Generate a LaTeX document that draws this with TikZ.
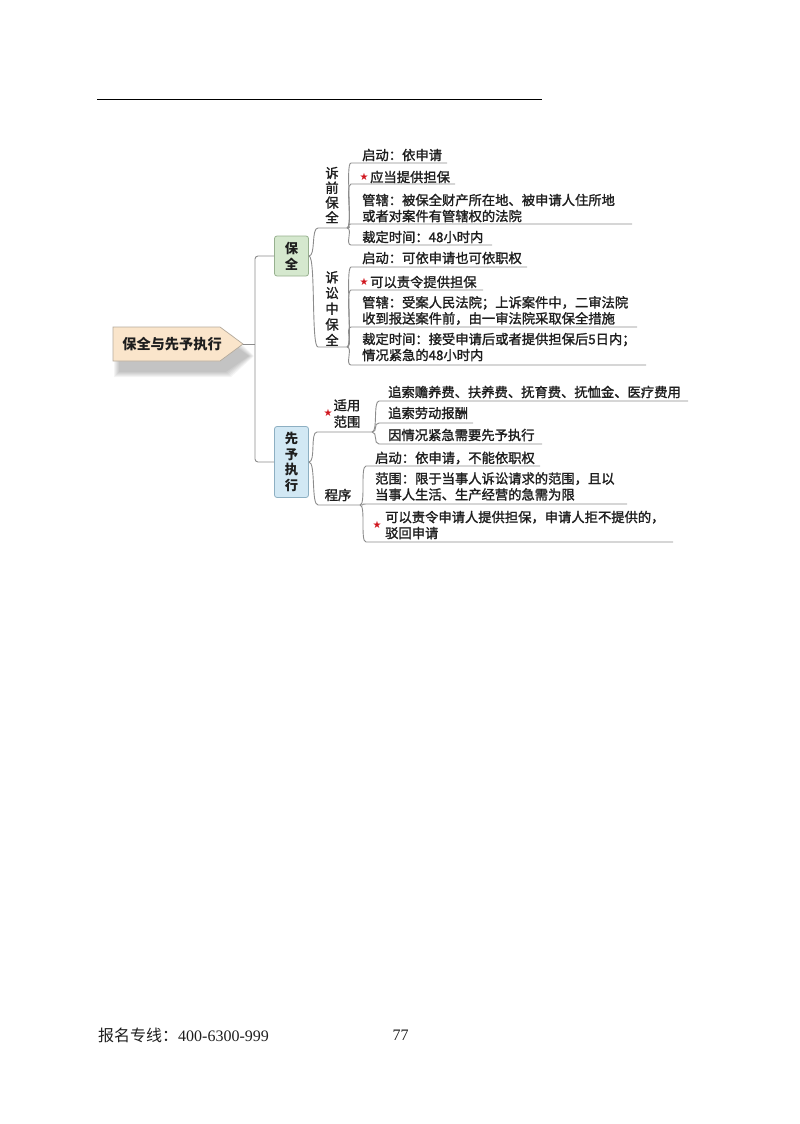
\documentclass[tikz,border=0pt]{standalone}
\usepackage{fontspec}
\setmainfont{Noto Sans CJK SC}
\newfontfamily\cjkfont{Noto Sans CJK SC}
\newfontfamily\leaffont{Noto Sans CJK SC}[FakeBold=1.6]
\newfontfamily\timesfont{Liberation Serif}
\newfontfamily\symfont{DejaVu Sans}
\usetikzlibrary{calc}
\definecolor{linegray}{HTML}{8C8C8C}
\definecolor{textc}{HTML}{1E1E1E}
\definecolor{peach}{HTML}{FAE5CB}
\definecolor{peachline}{HTML}{B4AA9C}
\definecolor{greenfill}{HTML}{D5E8CE}
\definecolor{greenline}{HTML}{97B08F}
\definecolor{bluefill}{HTML}{D2E8F4}
\definecolor{blueline}{HTML}{8DAFC2}
\definecolor{starred}{HTML}{D0161E}
\newcommand\leafitem[8]{%
  \coordinate (#1s) at (#3,#4);
  \coordinate (#1e) at (#5,#4);
  \node[leaf] (#1) at (#6,#7) {#8};
  \draw[conn] (#2) to[brk] (#1s) -- (#1e);
}
\begin{document}
\begin{tikzpicture}[x=1pt,y=-1pt,
  conn/.style={draw=linegray, line width=0.9pt},
  brk/.style={out=0,in=180,out distance=6pt,in distance=6pt},
  leaf/.style={anchor=west, inner sep=0pt, align=left, text=textc,
    font=\leaffont\fontsize{13.3}{16}\selectfont},
  vlabel/.style={inner sep=0pt, align=center, text=textc},
  starn/.style={inner sep=0pt, text=starred, font=\symfont\fontsize{10}{10}\selectfont},
  topicbox/.style={draw, line width=0.8pt, rounded corners=2.5pt, minimum width=34pt,
    inner sep=0pt, align=center, text=textc,
    font=\bfseries\fontsize{13.3}{15.7}\selectfont}]
\useasboundingbox (0,0) rectangle (800,1124);

% top rule
\coordinate (ruleL) at (97,99);
\coordinate (ruleR) at (542,99);
\draw[line width=0.8pt] (ruleL) -- (ruleR);

% root with soft shadow
\foreach \g in {5,4,3,2,1,0}{
  \fill[black, opacity=0.045] (119-\g,339-\g) -- (226+\g,339-\g) -- (249+\g,356) -- (226+\g,372+\g) -- (119-\g,372+\g) -- cycle;
}
\filldraw[fill=peach, draw=peachline, line width=0.7pt]
  (113,327) -- (220,327) -- (243,344) -- (220,361) -- (113,361) -- cycle;
\node[inner sep=0pt, text=textc, font=\bfseries\fontsize{14.2}{16}\selectfont] (root) at (172,344) {保全与先予执行};
\coordinate (roottip) at (243,344);
\coordinate (trunk) at (255,344);

% level-1 boxes
\node[topicbox, fill=greenfill, draw=greenline, minimum height=40pt] (baoquan) at (291.5,256) {保\\全};
\node[topicbox, fill=bluefill, draw=blueline, minimum height=71pt] (xianyu) at (291.5,462) {先\\予\\执\\行};

\draw[conn] (roottip) -- (trunk);
\draw[conn, rounded corners=3pt] (baoquan.west) -| (trunk) |- (xianyu.west);

% 保全 branches
\node[vlabel, font=\leaffont\fontsize{13.3}{14.8}\selectfont] (suqian) at (332,195) {诉\\前\\保\\全};
\node[vlabel, font=\leaffont\fontsize{13.3}{15.7}\selectfont] (susong) at (332,308.5) {诉\\讼\\中\\保\\全};
\coordinate (a1k) at (318,228);
\coordinate (a1) at (347,228);
\coordinate (a2k) at (318,347);
\coordinate (a2) at (347,347);
\draw[conn] (baoquan.east) to[out=0,in=180,out distance=7pt,in distance=7pt] (a1k) -- (a1);
\draw[conn] (baoquan.east) to[out=0,in=180,out distance=7pt,in distance=7pt] (a2k) -- (a2);

\leafitem{l1}{a1}{351}{163}{447}{362}{155}{启动：依申请}
\leafitem{l2}{a1}{351}{184}{455}{370}{177}{应当提供担保}
\node[starn] (l2star) at (364,177) {★};
\leafitem{l3}{a1}{351}{224}{632}{362}{208}{管辖：被保全财产所在地、被申请人住所地\\或者对案件有管辖权的法院}
\leafitem{l4}{a1}{351}{245}{492}{362}{237}{裁定时间：48小时内}

\leafitem{m1}{a2}{351}{267}{527}{362}{258}{启动：可依申请也可依职权}
\leafitem{m2}{a2}{351}{290}{483}{370}{282}{可以责令提供担保}
\node[starn] (m2star) at (364,282) {★};
\leafitem{m3}{a2}{351}{327}{637}{362}{310.5}{管辖：受案人民法院；上诉案件中，二审法院\\收到报送案件前，由一审法院采取保全措施}
\leafitem{m4}{a2}{351}{365}{646}{362}{347}{裁定时间：接受申请后或者提供担保后5日内；\\情况紧急的48小时内}

% 先予执行 branches
\node[vlabel, font=\leaffont\fontsize{13.3}{16.5}\selectfont] (shiyong) at (347,413.5) {适用\\范围};
\node[starn] (shiyongstar) at (328,413) {★};
\node[vlabel, font=\leaffont\fontsize{13.3}{16}\selectfont] (chengxu) at (338,495) {程序};
\coordinate (b1k) at (317,432);
\coordinate (b1) at (372,432);
\coordinate (b2k) at (318,505);
\coordinate (b2) at (360,505);
\draw[conn] (xianyu.east) to[out=0,in=180,out distance=7pt,in distance=7pt] (b1k) -- (b1);
\draw[conn] (xianyu.east) to[out=0,in=180,out distance=7pt,in distance=7pt] (b2k) -- (b2);

\leafitem{n1}{b1}{379}{401}{688}{388}{392}{追索赡养费、扶养费、抚育费、抚恤金、医疗费用}
\leafitem{n2}{b1}{379}{423}{473}{388}{413}{追索劳动报酬}
\leafitem{n3}{b1}{379}{444}{542}{388}{435}{因情况紧急需要先予执行}

\leafitem{p1}{b2}{366}{466}{540}{375}{458}{启动：依申请，不能依职权}
\leafitem{p2}{b2}{366}{504}{627}{375}{486.5}{范围：限于当事人诉讼请求的范围，且以\\当事人生活、生产经营的急需为限}
\leafitem{p3}{b2}{366}{542}{673}{385}{525}{可以责令申请人提供担保，申请人拒不提供的，\\驳回申请}
\node[starn] (p3star) at (377,525) {★};

% footer
\node[anchor=west, inner sep=0pt, text=textc, font=\fontsize{16}{18}\selectfont] (footer) at (98,1035) {\cjkfont 报名专线：\timesfont 400-6300-999};
\node[inner sep=0pt, text=textc, font=\timesfont\fontsize{16}{18}\selectfont] (pageno) at (400.5,1035) {77};
\end{tikzpicture}
\end{document}
